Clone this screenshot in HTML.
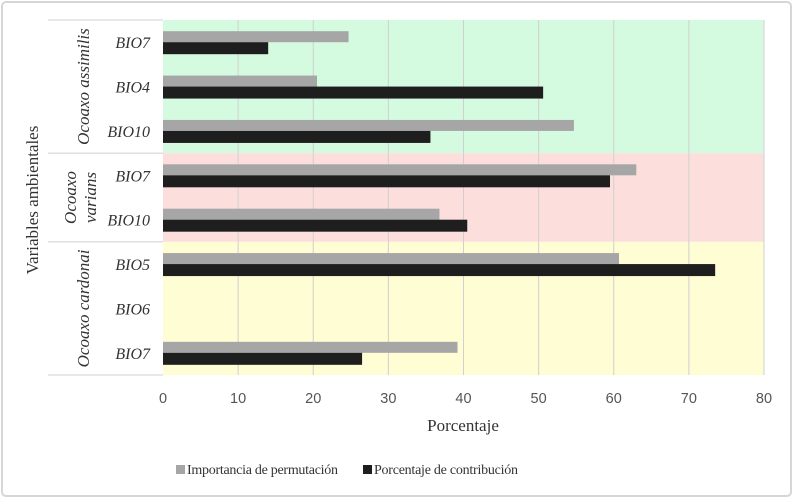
<!DOCTYPE html>
<html><head><meta charset="utf-8"><style>
body{margin:0;background:#fff;}
svg{display:block;font-family:"Liberation Serif",serif;}
</style></head><body>
<svg width="794" height="501">
<rect x="2" y="2" width="789" height="494" rx="4" fill="#fff" stroke="#d6d6d6" stroke-width="2"/>
<g id="bands"></g><g id="grid"></g><g id="bars"></g><g id="labels"></g>
<text x="38" y="200" transform="rotate(-90 38 200)" text-anchor="middle" font-size="17" fill="#333">Variables ambientales</text>
<text x="463" y="431" text-anchor="middle" font-size="17" fill="#333">Porcentaje</text>
<g>
<g><rect x="176" y="465" width="9" height="9" fill="#a6a6a6"/><text x="187" y="474" font-size="14" textLength="151" fill="#333">Importancia de permutación</text></g>
<g><rect x="363" y="465" width="9" height="9" fill="#1e1e1e"/><text x="374" y="474" font-size="14" textLength="144" fill="#333">Porcentaje de contribución</text></g>
</g>
</svg>
<script>
const categories=["BIO7","BIO4","BIO10","BIO7","BIO10","BIO5","BIO6","BIO7"];
const permutation=[24.7,20.5,54.7,63,36.8,60.7,0,39.2];
const contribution=[14,50.6,35.6,59.5,40.5,73.5,0,26.5];
const groups=["Ocoaxo assimilis","Ocoaxo varians","Ocoaxo cardonai"];
const groupSizes=[3,2,3];
const xTicks=[0,10,20,30,40,50,60,70,80];
const NS="http://www.w3.org/2000/svg";
const X0=163,X1=764,Y0=20,Y1=375,xMax=80;
const rowH=(Y1-Y0)/categories.length;
const xs=v=>X0+(X1-X0)*v/xMax;
const yr=i=>Y0+rowH*i;
function mk(tag,attrs,parent,text){const e=document.createElementNS(NS,tag);for(const k in attrs)e.setAttribute(k,attrs[k]);if(text!==undefined)e.textContent=text;document.getElementById(parent)?document.getElementById(parent).appendChild(e):parent.appendChild(e);return e;}
const bandColors=["#d4fadf","#fcdfdc","#fefdd4"];
let start=0;
groups.forEach((g,gi)=>{
 const ya=yr(start),yb=yr(start+groupSizes[gi]);
 const b=mk("rect",{x:X0,y:ya,width:X1-X0,height:yb-ya,fill:bandColors[gi]},"bands");
 
 
 const l=mk("line",{x1:48,x2:X0,y1:ya,y2:ya,stroke:"#d0d0d0"},"labels");
 
 
 const cy=(ya+yb)/2;
 if(gi===1){
  const t=mk("text",{x:0,y:0,transform:`translate(80 ${cy}) rotate(-90)`,"text-anchor":"middle","font-size":"17","font-style":"italic",fill:"#333"},"labels");
  
  
  mk("tspan",{x:0,dy:-4},t,"Ocoaxo");
  mk("tspan",{x:0,dy:20},t,"varians");
 } else {
  const t=mk("text",{x:0,y:0,transform:`translate(89 ${cy}) rotate(-90)`,"text-anchor":"middle","font-size":"17","font-style":"italic",fill:"#333"},"labels",g);
  
  
 }
 start+=groupSizes[gi];
});
const lb=mk("line",{x1:48,x2:X0,y1:Y1,y2:Y1,stroke:"#d0d0d0"},"labels");


xTicks.forEach(t=>{
 if(t>0){const g=mk("line",{x1:xs(t),x2:xs(t),y1:Y0,y2:Y1,stroke:"#d0d0d0"},"grid");
 
 }
 const tx=mk("text",{x:xs(t),y:403,"text-anchor":"middle","font-family":"Liberation Sans, sans-serif","font-size":"14.5",fill:"#555"},"grid",String(t));
 
 
});
categories.forEach((c,i)=>{
 const cy=yr(i)+rowH/2;
 const t=mk("text",{x:150,y:cy+6,"text-anchor":"end","font-size":"16","font-style":"italic",fill:"#333"},"labels",c);
 
 
 const g=mk("rect",{x:X0,y:cy-11,width:xs(permutation[i])-X0,height:11,fill:"#a6a6a6"},"bars");
 
 
 const k=mk("rect",{x:X0,y:cy,width:xs(contribution[i])-X0,height:12,fill:"#1e1e1e"},"bars");
 
 
});
</script>
</body></html>
